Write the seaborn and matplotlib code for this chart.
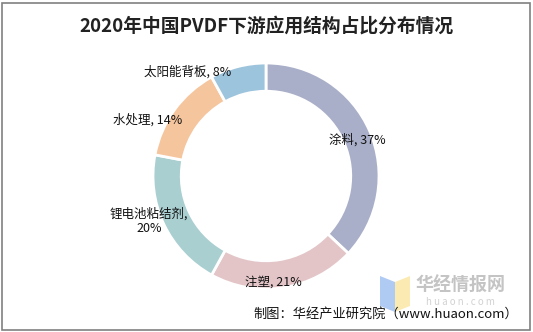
import matplotlib
matplotlib.use("Agg")
import matplotlib.pyplot as plt
import seaborn as sns
from matplotlib.patches import Rectangle, Polygon

sns.set_theme(style="white")
plt.rcParams['font.family'] = ['Noto Sans CJK SC', 'DejaVu Sans']

categories = ["涂料", "注塑", "锂电池粘结剂", "水处理", "太阳能背板"]
values = [37, 21, 20, 14, 8]
label_texts = ["涂料, 37%", "注塑, 21%", "锂电池粘结剂,\n20%", "水处理, 14%", "太阳能背板, 8%"]
colors = ["#A9AFC8", "#E3C5C8", "#AACFD0", "#F5C59D", "#9DC4DD"]
title = "2020年中国PVDF下游应用结构占比分布情况"
source = "制图：华经产业研究院（www.huaon.com）"

W, H = 533, 332
fig = plt.figure(figsize=(W / 100, H / 100), dpi=100)

cx, cy, R = 266, 176, 113
ax = fig.add_axes([(cx - R) / W, (H - cy - R) / H, 2 * R / W, 2 * R / H])
ax.pie(values, colors=colors, startangle=90, counterclock=False, radius=1,
       wedgeprops=dict(width=0.25, edgecolor="white", linewidth=2))
ax.set_xlim(-1, 1)
ax.set_ylim(-1, 1)
ax.set_aspect("equal")
ax.axis("off")

# label placement (pixel centers in figure)
label_pos = [(357, 140), (273, 282), (149, 221), (148, 120), (188, 72)]
for txt, (px, py) in zip(label_texts, label_pos):
    fig.text(px / W, 1 - py / H, txt, ha="center", va="center", fontsize=9,
             color="#111111", multialignment="center", linespacing=1.2)

fig.text(266 / W, 1 - 26 / H, title, ha="center", va="center", fontsize=13.5,
         fontweight="bold", color="#222222")

# watermark logo
fig.patches.append(Polygon([(380 / W, 1 - 276 / H), (395 / W, 1 - 282 / H),
                            (395 / W, 1 - 312 / H), (380 / W, 1 - 306 / H)],
                           closed=True, transform=fig.transFigure,
                           facecolor="#9DBEF0", edgecolor="none", alpha=0.8))
fig.patches.append(Polygon([(395 / W, 1 - 282 / H), (410 / W, 1 - 276 / H),
                            (410 / W, 1 - 306 / H), (395 / W, 1 - 312 / H)],
                           closed=True, transform=fig.transFigure,
                           facecolor="#FBE7A0", edgecolor="none", alpha=0.8))
fig.text(460 / W, 1 - 285 / H, "华经情报网", ha="center", va="center",
         fontsize=13, fontweight="bold", color="#C4C4C4")
fig.text(460 / W, 1 - 302 / H, "h u a o n . c o m", ha="center", va="center",
         fontsize=7, color="#D2D2D2")

fig.text(518 / W, 1 - 314 / H, source, ha="right", va="center", fontsize=9.5,
         color="#111111")

fig.patches.append(Rectangle((2 / W, 2.5 / H), (W - 5) / W, (H - 5) / H,
                             transform=fig.transFigure, fill=False,
                             edgecolor="#808080", linewidth=1.2))

fig.savefig("out.png", dpi=100)
